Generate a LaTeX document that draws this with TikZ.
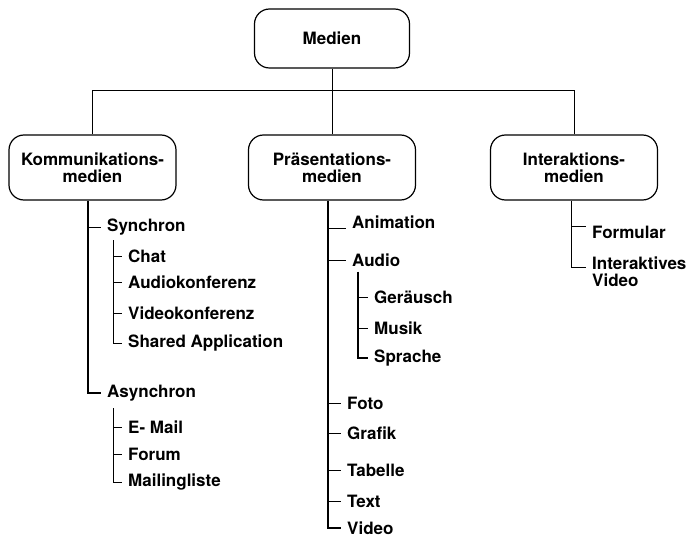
\documentclass[tikz,border=0pt]{standalone}
\usepackage{fontspec}
\setmainfont{TeX Gyre Heros}
\usetikzlibrary{calc}

\begin{document}
\begin{tikzpicture}[x=1pt,y=-1pt,
  box/.style={draw,line width=1.2pt,rounded corners=15pt,align=center,font=\bfseries\fontsize{17}{17}\selectfont,minimum width=167pt,minimum height=65pt},
  item/.style={anchor=west,inner xsep=6pt,inner ysep=1pt,align=left,font=\bfseries\fontsize{17}{17}\selectfont},
  link/.style={line width=0.9pt}]
  \useasboundingbox (0,0) rectangle (689,540);

  \node[box,minimum width=155pt,minimum height=59pt] (medien) at (332,38.5) {Medien};
  \node[box] (kom) at (92.5,167.5) {Kommunikations-\\medien};
  \node[box] (prae) at (332,167.5) {Präsentations-\\medien};
  \node[box] (inter) at (574,167.5) {Interaktions-\\medien};

  \coordinate (bus) at (332,90);
  \draw[link] (medien.south) -- (bus);
  \draw[link] (kom.north) |- (bus);
  \draw[link] (prae.north) -- (bus);
  \draw[link] (inter.north) |- (bus);

  \node[item] (syn) at (101,227) {Synchron};
  \node[item] (chat) at (122,256) {Chat};
  \node[item] (audk) at (122,282) {Audiokonferenz};
  \node[item] (vidk) at (122,313) {Videokonferenz};
  \node[item] (shared) at (122,343) {Shared Application};
  \node[item] (asyn) at (101,393) {Asynchron};
  \node[item] (email) at (122,427) {E- Mail};
  \node[item] (forum) at (122,454) {Forum};
  \node[item] (mliste) at (122,482) {Mailingliste};

  \coordinate (kt) at ([xshift=-4.5pt]kom.south);
  \draw[link,line width=1.4pt] (kt) |- (asyn.west);
  \draw[link] (kt |- syn.west) -- (syn.west);
  \coordinate (st) at ([xshift=12pt,yshift=-4pt]syn.south west);
  \draw[link] (st) |- (shared.west);
  \foreach \n in {chat,audk,vidk} \draw[link] (st |- \n.west) -- (\n.west);
  \coordinate (at) at ([xshift=12pt,yshift=-6pt]asyn.south west);
  \draw[link] (at) |- (mliste.west);
  \foreach \n in {email,forum} \draw[link] (at |- \n.west) -- (\n.west);

  \node[item] (anim) at (346,222) {Animation};
  \node[item] (audio) at (346,260) {Audio};
  \node[item] (geraeusch) at (368,297) {Geräusch};
  \node[item] (musik) at (368,328) {Musik};
  \node[item] (sprache) at (368,358) {Sprache};
  \node[item] (foto) at (341,403) {Foto};
  \node[item] (grafik) at (341,433) {Grafik};
  \node[item] (tabelle) at (341,470) {Tabelle};
  \node[item] (text) at (341,501) {Text};
  \node[item] (video) at (341,528) {Video};

  \coordinate (pt) at ([xshift=-4pt]prae.south);
  \draw[link,line width=1.9pt] (pt) |- (video.west);
  \draw[link] (pt |- anim.west) ++(0,6) -- ([yshift=-6pt]anim.west);
  \foreach \n in {audio,foto,grafik,tabelle,text} \draw[link] (pt |- \n.west) -- (\n.west);
  \coordinate (aut) at ([xshift=12pt,yshift=-4pt]audio.south west);
  \draw[link,line width=1.2pt] (aut) |- (sprache.west);
  \foreach \n in {geraeusch,musik} \draw[link] (aut |- \n.west) -- (\n.west);

  \node[item] (formular) at (586,232) {Formular};
  \node[item] (ivideo) at (586,272) {Interaktives\\Video};

  \coordinate (it) at ([xshift=-3pt]inter.south);
  \draw[link] (it) |- ([yshift=5pt]ivideo.west);
  \draw[link] (it |- formular.west) ++(0,-6) -- ([yshift=6pt]formular.west);
\end{tikzpicture}
\end{document}
